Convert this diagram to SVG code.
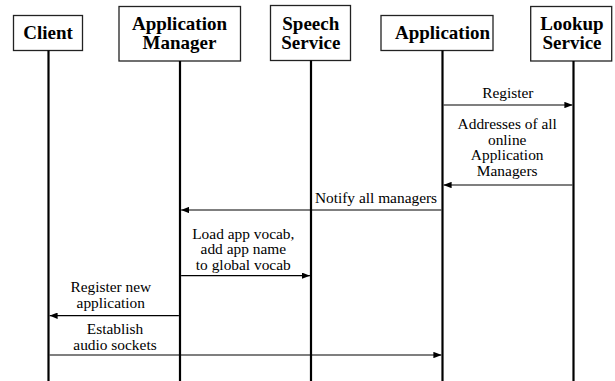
<svg xmlns="http://www.w3.org/2000/svg" width="615" height="381" viewBox="0 0 615 381">
  <style>
    .box { fill: #ffffff; stroke: #222222; stroke-width: 1.3; }
    .life { stroke: #000000; stroke-width: 2.2; fill: none; }
    .head { font-family: "Liberation Serif", "Times New Roman", serif; font-weight: bold; font-size: 19px; fill: #000000; text-anchor: middle; }
    .msg { stroke: #000000; stroke-width: 1.2; fill: none; marker-end: url(#tip); }
    .lbl { font-family: "Liberation Serif", "Times New Roman", serif; font-size: 15.4px; fill: #000000; text-anchor: middle; }
  </style>
  <defs>
    <marker id="tip" viewBox="0 0 10 8" refX="10" refY="4" markerWidth="8" markerHeight="6.4" markerUnits="userSpaceOnUse" orient="auto">
      <path d="M0,0 L10,4 L0,8 Z" fill="#000000"/>
    </marker>
  </defs>
  <rect width="615" height="381" fill="#ffffff"/>

  <!-- participants with their lifelines -->
  <g id="client">
    <rect class="box" x="13.5" y="15.5" width="69" height="35"/>
    <line class="life" x1="48.5" y1="50.5" x2="48.5" y2="381"/>
    <text class="head" x="48" y="38.5">Client</text>
  </g>
  <g id="application-manager">
    <rect class="box" x="119" y="6.5" width="121.5" height="54.5"/>
    <line class="life" x1="180" y1="61" x2="180" y2="381"/>
    <text class="head" x="179.5" y="29.5">Application</text>
    <text class="head" x="179.5" y="49">Manager</text>
  </g>
  <g id="speech-service">
    <rect class="box" x="270.5" y="5.5" width="80" height="55"/>
    <line class="life" x1="311" y1="60.5" x2="311" y2="381"/>
    <text class="head" x="310.8" y="29.5">Speech</text>
    <text class="head" x="310.8" y="49">Service</text>
  </g>
  <g id="application">
    <rect class="box" x="381" y="15.5" width="112" height="35"/>
    <line class="life" x1="442.5" y1="50.5" x2="442.5" y2="381"/>
    <text class="head" x="442.5" y="38.5">Application</text>
  </g>
  <g id="lookup-service">
    <rect class="box" x="530.7" y="6.5" width="81" height="54.5"/>
    <line class="life" x1="573.5" y1="61" x2="573.5" y2="381"/>
    <text class="head" x="572" y="29.5">Lookup</text>
    <text class="head" x="572" y="49">Service</text>
  </g>

  <!-- messages -->
  <g id="messages">
    <line class="msg" x1="443.6" y1="105" x2="572.4" y2="105"/>
    <text class="lbl" x="507.8" y="98">Register</text>

    <line class="msg" x1="572.4" y1="185" x2="443.6" y2="185"/>
    <text class="lbl" x="507.2" y="129">Addresses of all</text>
    <text class="lbl" x="507.2" y="144.5">online</text>
    <text class="lbl" x="507.2" y="160">Application</text>
    <text class="lbl" x="507.2" y="175.5">Managers</text>

    <line class="msg" x1="441.4" y1="210" x2="181.1" y2="210"/>
    <text class="lbl" x="376" y="203">Notify all managers</text>

    <line class="msg" x1="181.1" y1="275.7" x2="309.9" y2="275.7"/>
    <text class="lbl" x="243.3" y="238.5">Load app vocab,</text>
    <text class="lbl" x="243.3" y="254">add app name</text>
    <text class="lbl" x="243.3" y="269.5">to global vocab</text>

    <line class="msg" x1="178.9" y1="315.7" x2="49.6" y2="315.7"/>
    <text class="lbl" x="110.8" y="292">Register new</text>
    <text class="lbl" x="110.8" y="307.5">application</text>

    <line class="msg" x1="49.6" y1="355" x2="441.4" y2="355"/>
    <text class="lbl" x="115" y="334">Establish</text>
    <text class="lbl" x="115" y="350">audio sockets</text>
  </g>
</svg>
